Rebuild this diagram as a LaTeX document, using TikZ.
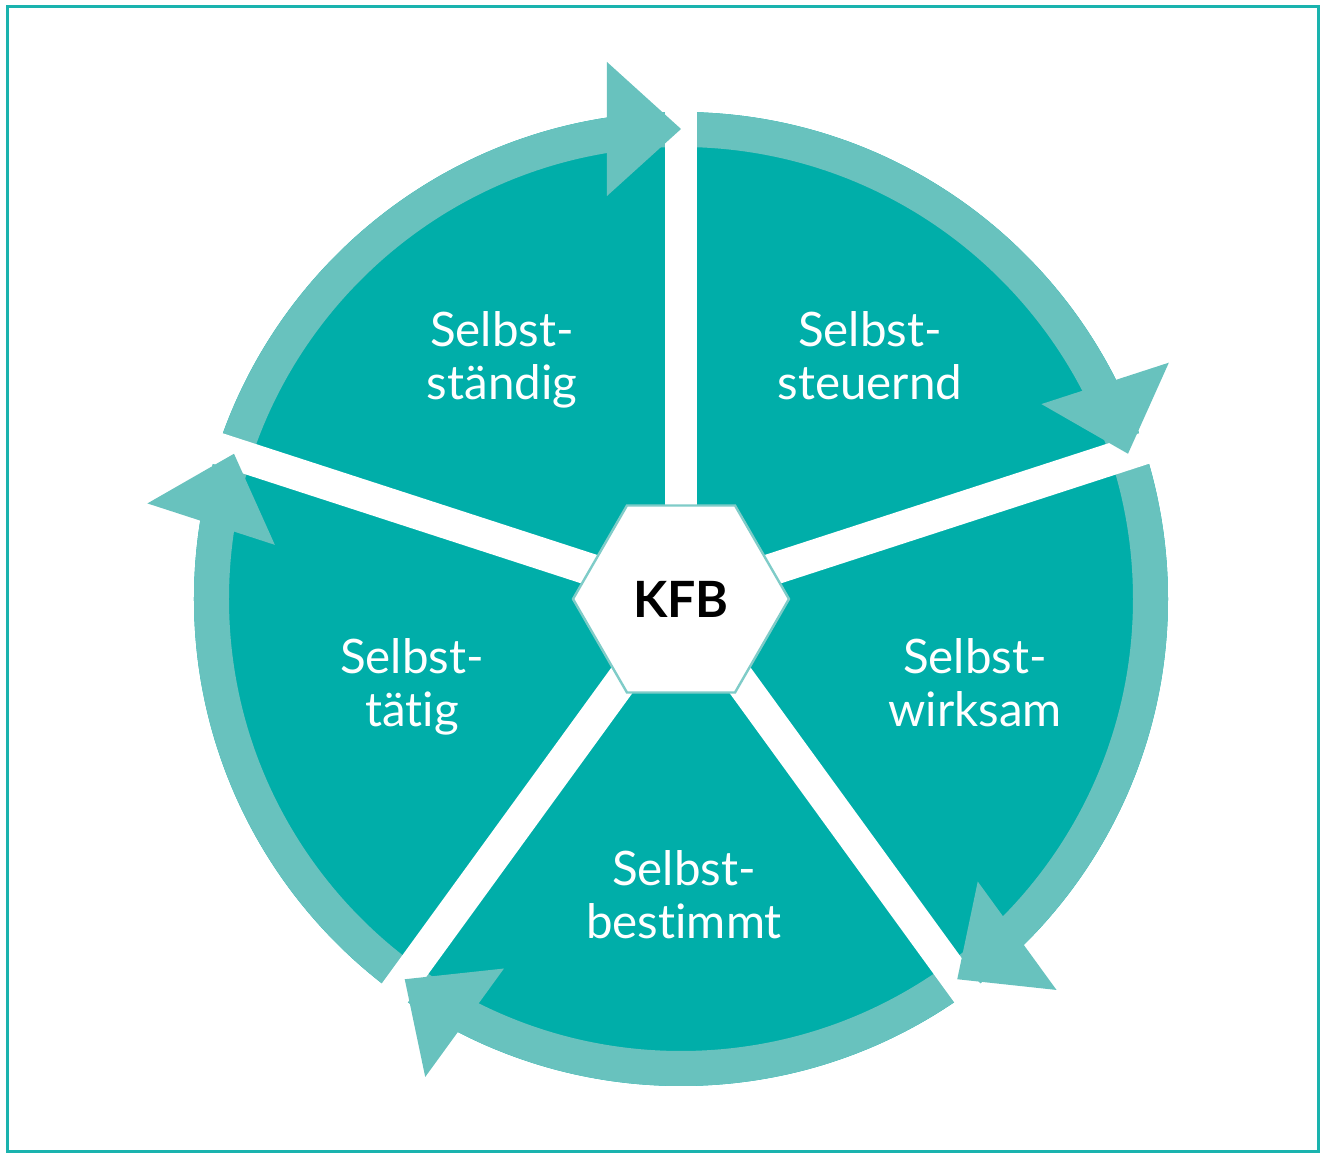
\documentclass[tikz,border=0pt]{standalone}
\usepackage{fontspec}
\setmainfont{Lato}[Ligatures=NoCommon]
\usetikzlibrary{shapes.geometric}
\definecolor{tealdark}{HTML}{00AEA9}
\definecolor{teallight}{HTML}{68C2BE}
\definecolor{tealborder}{HTML}{1AB3AE}
\definecolor{hexline}{HTML}{7FCCC8}
\begin{document}
\begin{tikzpicture}[x=0.5pt,y=0.5pt,
  lbl/.style={text=white, align=center, anchor=base, inner sep=0pt,
    font=\fontsize{23.75pt}{26.75pt}\selectfont},
  gapbar/.style={draw=white, line width=16pt},
  headshape/.style={fill=teallight},
  hexnode/.style={regular polygon, regular polygon sides=6, minimum size=108pt,
    inner sep=0pt, fill=white, draw=hexline, line width=1.2pt,
    font=\fontsize{25pt}{30pt}\selectfont\bfseries},
]
\useasboundingbox (-681,-561) rectangle (647,599);
\draw[tealborder, line width=1.5pt] (-673,592) rectangle (637,-553);
% disc and outer ring
\fill[tealdark] (0,0) circle[radius=487];
\fill[teallight, even odd rule] (0,0) circle[radius=487] (0,0) circle[radius=452];
% white gaps
\foreach \g in {90,18,-54,-126,162} {
  \draw[gapbar] (0,0) -- (\g:500);
}
% arrow heads (clockwise)
\foreach \g in {90,18,-54,-126,162} {
  \fill[headshape, rotate=\g-90] (0,470) -- (-74,403) -- (-74,537) -- cycle;
}
% labels (anchor = baseline of the last line)
\node[lbl] (t1) at (-179,199) {Selbst-\\ständig};
\node[lbl] (t2) at (189,199) {Selbst-\\steuernd};
\node[lbl] (t3) at (294,-128) {Selbst-\\wirksam};
\node[lbl] (t4) at (3,-340) {Selbst-\\bestimmt};
\node[lbl] (t5) at (-269,-128) {Selbst-\\tätig};
\node[hexnode] (kfb) at (0,0) {KFB};
\end{tikzpicture}
\end{document}
